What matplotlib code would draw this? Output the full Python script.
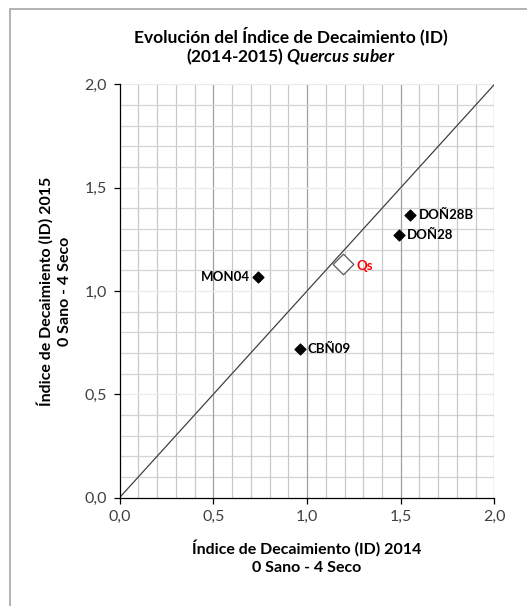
import matplotlib.pyplot as plt
from matplotlib.patches import Rectangle
import numpy as np

plt.rcParams['font.family'] = ['Lato', 'DejaVu Sans']
plt.rcParams['mathtext.fontset'] = 'custom'
plt.rcParams['mathtext.rm'] = 'Lato:bold'
plt.rcParams['mathtext.it'] = 'Lato:bold:italic'

parcelas = ["MON04", "CBÑ09", "DOÑ28", "DOÑ28B"]
id_2014 = [0.74, 0.96, 1.49, 1.55]
id_2015 = [1.07, 0.72, 1.27, 1.37]

especie = "Qs"
qs_2014 = 1.19
qs_2015 = 1.13

ticks = [0.0, 0.5, 1.0, 1.5, 2.0]
tick_labels = ["0,0", "0,5", "1,0", "1,5", "2,0"]

fig = plt.figure(figsize=(5.27, 6.06), dpi=100)
fig.patches.append(Rectangle((9.5 / 527, -0.1), 1.2, 1 - 8.5 / 606 + 0.1,
                             transform=fig.transFigure, fill=False,
                             edgecolor="#a6a6a6", linewidth=1.2))

ax = fig.add_axes([119.5 / 527, 1 - 497.7 / 606, 375 / 527, 413.4 / 606])
ax.set_xlim(0, 2)
ax.set_ylim(0, 2)

# rejilla: verticales mas marcadas que las horizontales
minor = np.round(np.arange(0.1, 2.01, 0.1), 2)
for v in minor:
    major = abs(v * 2 - round(v * 2)) < 1e-6
    ax.axvline(v, color="#a0a0a0" if major else "#c8c8c8", lw=0.9, zorder=0)
    ax.axhline(v, color="#ebebeb" if major else "#d4d4d4", lw=0.9, zorder=0)

ax.plot([0, 2], [0, 2], color="#404040", lw=0.9, zorder=1)

ax.scatter(id_2014, id_2015, marker="D", s=30, color="black", zorder=3)
ax.scatter([qs_2014], [qs_2015], marker="D", s=110, facecolor="white",
           edgecolor="#595959", linewidth=0.9, zorder=3)

offsets = {"MON04": (-6, "right"), "CBÑ09": (6, "left"),
           "DOÑ28": (6, "left"), "DOÑ28B": (6, "left")}
for nombre, x, y in zip(parcelas, id_2014, id_2015):
    dx, ha = offsets[nombre]
    ax.annotate(nombre, (x, y), xytext=(dx, 0), textcoords="offset points",
                ha=ha, va="center", fontsize=9.5, fontweight="bold")
ax.annotate(especie, (qs_2014, qs_2015), xytext=(10, -1), textcoords="offset points",
            ha="left", va="center", fontsize=9.5, fontweight="bold", color="#ff0000")

ax.set_xticks(ticks)
ax.set_xticklabels(tick_labels)
ax.set_yticks(ticks)
ax.set_yticklabels(tick_labels)
ax.tick_params(direction="out", length=4, width=0.9, colors="black",
               labelcolor="#404040", labelsize=11.5, pad=5)
for side in ("top", "right"):
    ax.spines[side].set_visible(False)
for side in ("left", "bottom"):
    ax.spines[side].set_color("black")
    ax.spines[side].set_linewidth(0.9)

ax.set_xlabel("Índice de Decaimiento (ID) 2014\n0 Sano - 4 Seco",
              fontsize=11.5, fontweight="bold", labelpad=11, linespacing=1.4)
ax.set_ylabel("Índice de Decaimiento (ID) 2015\n0 Sano - 4 Seco",
              fontsize=11.5, fontweight="bold", labelpad=9, linespacing=1.4)

fig.text(0.551, 1 - 46.5 / 606,
         "Evolución del Índice de Decaimiento (ID)\n(2014-2015) $\\mathit{Quercus\\ suber}$",
         ha="center", va="center", fontsize=12.5, fontweight="bold",
         linespacing=1.1, multialignment="center")

fig.savefig("out.png", dpi=100)
